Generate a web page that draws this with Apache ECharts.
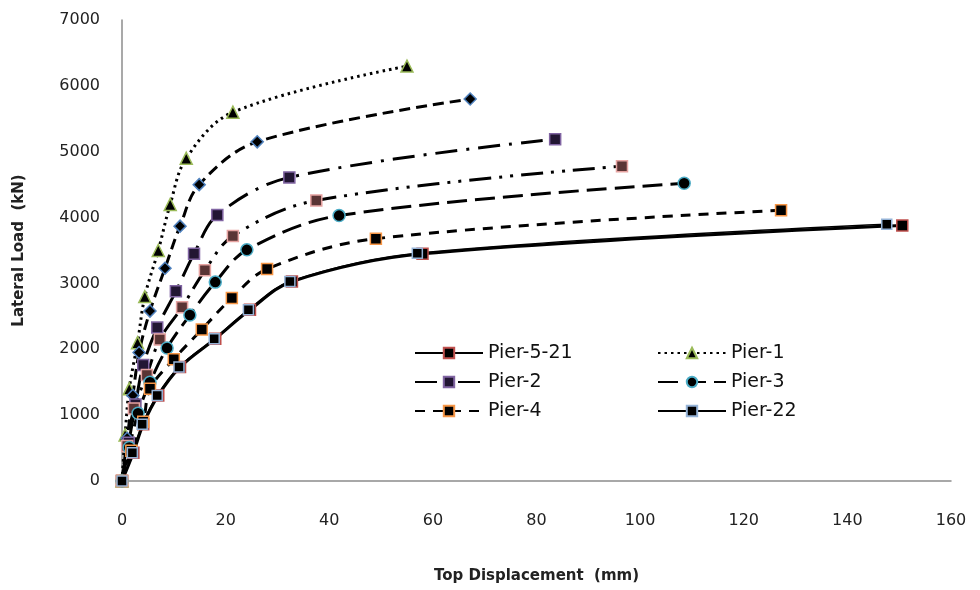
<!DOCTYPE html>
<html>
<head>
<meta charset="utf-8">
<script src="https://cdn.jsdelivr.net/npm/echarts@6/dist/echarts.min.js"></script>
<style>html,body{margin:0;padding:0;background:#fff}#c{width:980px;height:590px}</style>
</head>
<body>
<div id="c"></div>
<script>
// Top displacement (mm) and lateral load (kN) per series
var dispPier521 = [0, 2.2, 4.1, 7.0, 11.2, 18.0, 24.7, 32.8, 58.0, 150.6];
var loadPier521 = [0, 430, 860, 1300, 1730, 2160, 2600, 3030, 3450, 3880];
var dispPier1 = [0, 0.6, 1.4, 3.0, 4.4, 7.0, 9.3, 12.4, 21.4, 55.0];
var loadPier1 = [0, 700, 1400, 2100, 2800, 3500, 4200, 4900, 5600, 6300];
var dispPier2 = [0, 1.3, 2.6, 4.1, 6.8, 10.4, 13.9, 18.4, 32.3, 83.6];
var loadPier2 = [0, 580, 1160, 1760, 2330, 2880, 3450, 4040, 4610, 5190];
var dispPier3 = [0, 1.4, 3.1, 5.4, 8.7, 13.1, 18.0, 24.1, 41.9, 108.5];
var loadPier3 = [0, 510, 1030, 1500, 2020, 2520, 3020, 3510, 4030, 4520];
var dispPier4 = [0, 1.8, 4.1, 5.4, 10.0, 15.4, 21.2, 28.0, 49.0, 127.2];
var loadPier4 = [0, 460, 900, 1400, 1850, 2300, 2780, 3220, 3680, 4110];
var dispPier22 = [0, 2.0, 3.9, 6.8, 11.0, 17.8, 24.4, 32.4, 57.0, 147.6];
var loadPier22 = [0, 430, 860, 1300, 1730, 2160, 2600, 3030, 3460, 3900];
// two curves drawn in the plot but not listed in the legend
var dispCurveA = [0, 1.0, 2.1, 3.3, 5.4, 8.3, 11.2, 14.9, 26.1, 67.2];
var loadCurveA = [0, 650, 1300, 1950, 2580, 3230, 3870, 4500, 5150, 5800];
var dispCurveB = [0, 1.0, 2.3, 4.8, 7.3, 11.6, 16.0, 21.4, 37.5, 96.5];
var loadCurveB = [0, 530, 1100, 1610, 2150, 2640, 3200, 3720, 4260, 4780];

var xTicks = [0, 20, 40, 60, 80, 100, 120, 140, 160];
var yTicks = [0, 1000, 2000, 3000, 4000, 5000, 6000, 7000];

function pairs(xs, ys) { return xs.map(function (x, i) { return [x, ys[i]]; }); }

function mk(name, xs, ys, lineType, width, symbol, fill, border, size) {
  return {
    name: name, type: 'line', data: pairs(xs, ys),
    smooth: 0.35,
    symbol: symbol, symbolSize: size || 11,
    lineStyle: { color: '#000', width: width, type: lineType, cap: 'butt' },
    itemStyle: { color: fill, borderColor: border, borderWidth: 1.5 },
    emphasis: { disabled: true },
    animation: false
  };
}

var font = 'DejaVu Sans';
var chart = echarts.init(document.getElementById('c'), null, { renderer: 'canvas' });
chart.setOption({
  backgroundColor: '#fff',
  animation: false,
  grid: { left: 122, right: 29, top: 20, bottom: 109, containLabel: false },
  xAxis: {
    type: 'value', min: xTicks[0], max: xTicks[xTicks.length - 1], interval: 20,
    name: 'Top Displacement  (mm)', nameLocation: 'middle', nameGap: 88,
    nameTextStyle: { fontFamily: font, fontWeight: 'bold', fontSize: 15, color: '#222' },
    axisLine: { lineStyle: { color: '#8c8c8c', width: 1.5 } },
    axisTick: { show: false },
    splitLine: { show: false },
    axisLabel: { margin: 32, fontFamily: font, fontSize: 16, color: '#222',
      formatter: function (v) { return String(v); } }
  },
  yAxis: {
    type: 'value', min: yTicks[0], max: yTicks[yTicks.length - 1], interval: 1000,
    name: 'Lateral Load  (kN)', nameLocation: 'middle', nameGap: 95,
    nameTextStyle: { fontFamily: font, fontWeight: 'bold', fontSize: 15, color: '#222' },
    axisLine: { show: true, lineStyle: { color: '#8c8c8c', width: 1.5 } },
    axisTick: { show: false },
    splitLine: { show: false },
    axisLabel: { margin: 22, fontFamily: font, fontSize: 16, color: '#222',
      formatter: function (v) { return String(v); } }
  },
  legend: [
    {
      data: ['Pier-5-21', 'Pier-2', 'Pier-4'], orient: 'vertical', left: 409, top: 338,
      itemWidth: 68, itemHeight: 13, itemGap: 9,
      textStyle: { fontFamily: font, fontSize: 19, color: '#111', lineHeight: 20 },
      selectedMode: false
    },
    {
      data: ['Pier-1', 'Pier-3', 'Pier-22'], orient: 'vertical', left: 652, top: 338,
      itemWidth: 68, itemHeight: 13, itemGap: 9,
      textStyle: { fontFamily: font, fontSize: 19, color: '#111', lineHeight: 20 },
      selectedMode: false
    }
  ],
  series: [
    mk('Pier-5-21', dispPier521, loadPier521, 'solid', 3, 'rect', '#000', '#c0504d', 11),
    mk('Pier-1', dispPier1, loadPier1, [2.5, 4], 3, 'triangle', '#000', '#9bbb59', 12),
    mk('Curve-A', dispCurveA, loadCurveA, [11, 6], 3, 'diamond', '#000', '#4f81bd', 12),
    mk('Pier-2', dispPier2, loadPier2, [22, 9, 3, 9], 3, 'rect', '#221633', '#8064a2', 11),
    mk('Curve-B', dispCurveB, loadCurveB, [22, 8, 3, 8, 3, 8], 3, 'rect', '#5a3434', '#e6a3a1', 11),
    mk('Pier-3', dispPier3, loadPier3, [20, 8], 3, 'circle', '#000', '#4bacc6', 12),
    mk('Pier-4', dispPier4, loadPier4, [10, 8], 3, 'rect', '#000', '#f79646', 11),
    mk('Pier-22', dispPier22, loadPier22, 'solid', 1.5, 'rect', '#000', '#95b3d7', 10)
  ]
});
</script>
</body>
</html>
